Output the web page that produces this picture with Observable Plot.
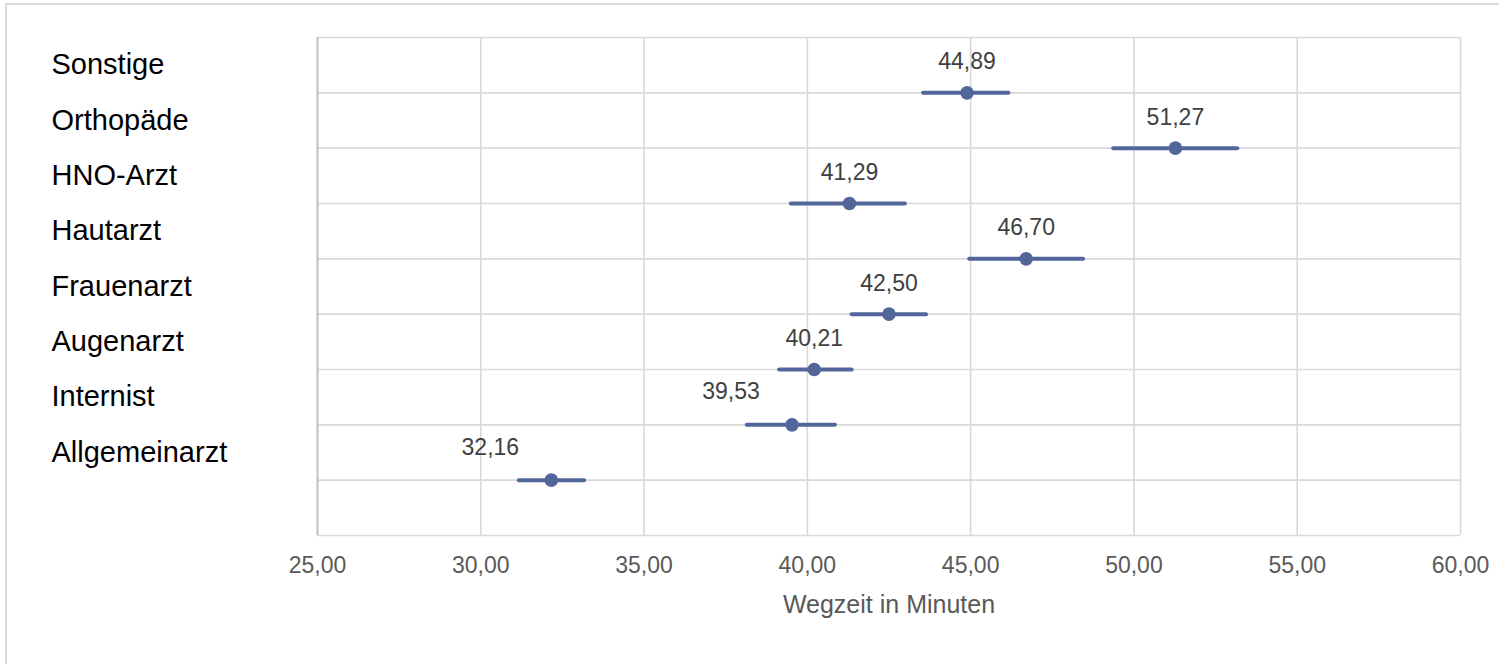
<!DOCTYPE html>
<html>
<head>
<meta charset="utf-8">
<script src="https://cdn.jsdelivr.net/npm/d3@7"></script>
<script src="https://cdn.jsdelivr.net/npm/@observablehq/plot@0.6"></script>
<style>
  html, body { margin: 0; padding: 0; background: #fff; overflow: hidden; }
  #wrap { position: relative; width: 1499px; height: 664px; }
  #border { position: absolute; left: 5px; top: 3px; width: 1600px; height: 800px;
            border-left: 2px solid #d9d9d9; border-top: 2px solid #d9d9d9; pointer-events: none; }
  svg { font-family: "Liberation Sans", Arial, sans-serif; }
</style>
</head>
<body>
<div id="wrap"><div id="border"></div></div>
<script>
const categories = ["Sonstige", "Orthopäde", "HNO-Arzt", "Hautarzt", "Frauenarzt", "Augenarzt", "Internist", "Allgemeinarzt"];
const means = [44.89, 51.27, 41.29, 46.70, 42.50, 40.21, 39.53, 32.16];
const lower = [43.56, 49.38, 39.51, 44.97, 41.37, 39.15, 38.16, 31.18];
const upper = [46.17, 53.18, 43.00, 48.46, 43.65, 41.37, 40.86, 33.18];
const xTicks = [25, 30, 35, 40, 45, 50, 55, 60];
const axisTitle = "Wegzeit in Minuten";
const shiftedLabels = ["Internist", "Allgemeinarzt"];

const n = categories.length;
const rows = categories.map((c, i) => ({
  cat: c, mean: means[i], lo: lower[i], hi: upper[i], pos: n - i
}));
const yLines = d3.range(0, n + 2);
const fmt = v => d3.format(".2f")(v).replace(".", ",");
const color = "#53669a";

const chart = Plot.plot({
  width: 1499,
  height: 664,
  marginLeft: 317,
  marginRight: 39,
  marginTop: 37,
  marginBottom: 129,
  style: { fontFamily: "'Liberation Sans', Arial, sans-serif", background: "transparent" },
  x: { domain: [25, 60] },
  y: { domain: [0, n + 1], axis: null },
  marks: [
    Plot.ruleY(yLines, { stroke: "#d9d9d9", strokeWidth: 1.6 }),
    Plot.ruleX(xTicks.slice(1), { stroke: "#d9d9d9", strokeWidth: 1.6 }),
    Plot.ruleX([25], { stroke: "#bfbfbf", strokeWidth: 2 }),
    Plot.axisX({ ticks: xTicks, tickFormat: fmt, tickSize: 0, tickPadding: 21, fontSize: 23, fill: "#595959", label: null }),
    Plot.text([axisTitle], { frameAnchor: "bottom", dy: 69, fontSize: 25, fill: "#595959", lineAnchor: "middle" }),
    Plot.ruleY(rows, { y: "pos", x1: "lo", x2: "hi", stroke: color, strokeWidth: 4, strokeLinecap: "round" }),
    Plot.dot(rows, { x: "mean", y: "pos", r: 6.8, fill: color, stroke: null }),
    Plot.text(rows.filter(d => !shiftedLabels.includes(d.cat)), {
      x: "mean", y: "pos", text: d => fmt(d.mean), dy: -31, fontSize: 23, fill: "#404040", lineAnchor: "middle"
    }),
    Plot.text(rows.filter(d => shiftedLabels.includes(d.cat)), {
      x: "mean", y: "pos", text: d => fmt(d.mean), dx: -61, dy: -33, fontSize: 23, fill: "#404040", lineAnchor: "middle"
    }),
    Plot.text(rows, {
      y: d => d.pos + 0.5, text: "cat", frameAnchor: "left", dx: -266, textAnchor: "start",
      fontSize: 29, fill: "#000", lineAnchor: "middle"
    })
  ]
});
document.getElementById("wrap").appendChild(chart);
</script>
</body>
</html>
